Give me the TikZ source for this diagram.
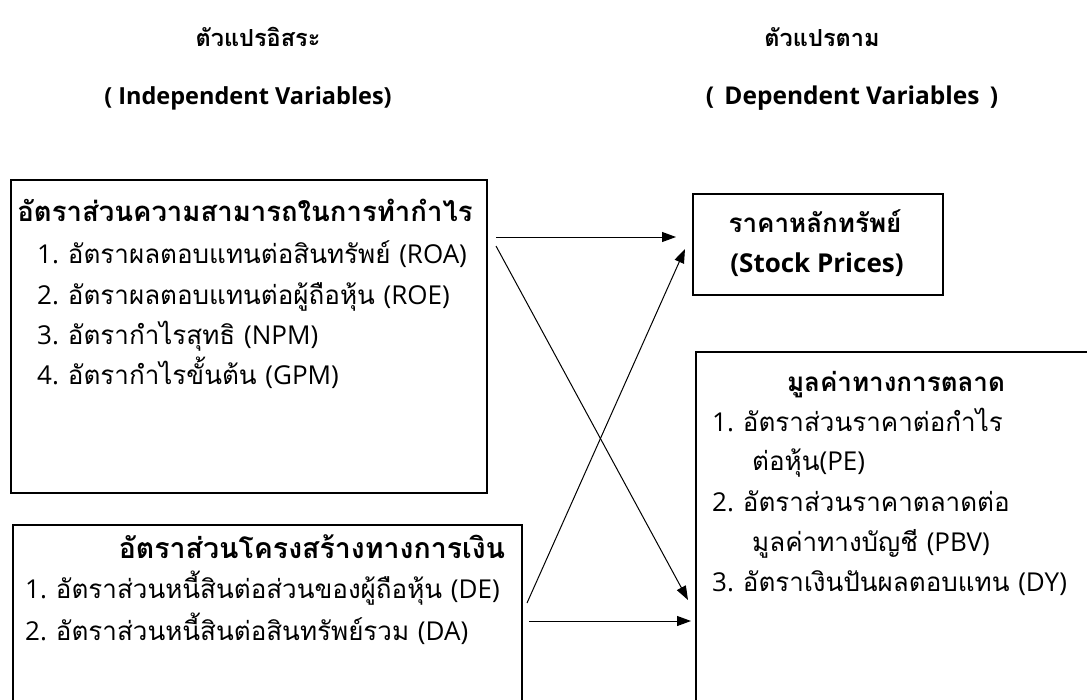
\documentclass[tikz,border=0pt]{standalone}
\usepackage{fontspec}
\setmainfont{Loma}[Script=Thai]
\newfontfamily\latn{Open Sans}
\usetikzlibrary{arrows.meta}
\tikzset{
  box/.style={draw=black, line width=1.5pt, fill=none, inner sep=0pt, anchor=north west},
  txt/.style={inner sep=0pt, anchor=base west, font=\fontsize{26}{30}\selectfont},
  btxt/.style={inner sep=0pt, anchor=base, font=\fontsize{26}{30}\selectfont\bfseries},
  bigb/.style={btxt, font=\fontsize{27.5}{30}\selectfont\bfseries},
  htxt/.style={inner sep=0pt, anchor=base, font=\fontsize{23.5}{30}\selectfont\bfseries},
  conn/.style={line width=1pt, -{Triangle[length=14pt,width=10pt]}}
}
\begin{document}
\begin{tikzpicture}[x=1pt,y=-1pt]
\useasboundingbox[fill=white] (0,0) rectangle (1087,699);
% headers
\node[htxt] (h1) at (258,46) {ตัวแปรอิสระ};
\node[htxt] (h2) at (248,104) {\latn ( Independent Variables)};
\node[htxt] (h3) at (822,46) {ตัวแปรตาม};
\node[htxt, font=\fontsize{24.5}{30}\selectfont\bfseries] (h4) at (852,104) {\latn (\hspace{4pt} Dependent Variables\hspace{4pt} )};
% boxes
\node[box, minimum width=476pt, minimum height=313pt] (prof) at (10,179) {};
\node[box, minimum width=509pt, minimum height=220pt] (fin) at (12,524) {};
\node[box, minimum width=250pt, minimum height=101pt] (stock) at (692,193) {};
\node[box, minimum width=420pt, minimum height=400pt] (mkt) at (695,351) {};
% box 1 text
\node[bigb] (p0) at (245,221) {อัตราส่วนความสามารถในการทำกำไร};
\node[txt] (p1) at (37,263) {{\latn 1. }อัตราผลตอบแทนต่อสินทรัพย์ {\latn (ROA)}};
\node[txt] (p2) at (37,304) {{\latn 2. }อัตราผลตอบแทนต่อผู้ถือหุ้น {\latn (ROE)}};
\node[txt] (p3) at (37,344) {{\latn 3. }อัตรากำไรสุทธิ {\latn (NPM)}};
\node[txt] (p4) at (37,384) {{\latn 4. }อัตรากำไรขั้นต้น {\latn (GPM)}};
% box 2 text
\node[bigb, font=\fontsize{28.5}{30}\selectfont\bfseries] (f0) at (312,558) {อัตราส่วนโครงสร้างทางการเงิน};
\node[txt] (f1) at (25,598) {{\latn 1. }อัตราส่วนหนี้สินต่อส่วนของผู้ถือหุ้น {\latn (DE)}};
\node[txt] (f2) at (25,640) {{\latn 2. }อัตราส่วนหนี้สินต่อสินทรัพย์รวม {\latn (DA)}};
% stock box text
\node[btxt] (s0) at (815,232) {ราคาหลักทรัพย์};
\node[btxt] (s1) at (817,272) {\latn (Stock Prices)};
% market box text
\node[btxt] (m0) at (896,391) {มูลค่าทางการตลาด};
\node[txt] (m1) at (712,431) {{\latn 1. }อัตราส่วนราคาต่อกำไร};
\node[txt] (m2) at (752,470) {ต่อหุ้น{\latn (PE)}};
\node[txt] (m3) at (712,511) {{\latn 2. }อัตราส่วนราคาตลาดต่อ};
\node[txt] (m4) at (752,551) {มูลค่าทางบัญชี {\latn (PBV)}};
\node[txt] (m5) at (712,591) {{\latn 3. }อัตราเงินปันผลตอบแทน {\latn (DY)}};
% connector end points
\coordinate (a1s) at (496,237);
\coordinate (a1e) at (676,237);
\coordinate (a2s) at (496,246);
\coordinate (a2e) at (688,600);
\coordinate (a3s) at (527,603);
\coordinate (a3e) at (685,249);
\coordinate (a4s) at (529,621);
\coordinate (a4e) at (691,621);
\draw[conn] (a1s) -- (a1e);
\draw[conn] (a2s) -- (a2e);
\draw[conn] (a3s) -- (a3e);
\draw[conn] (a4s) -- (a4e);
\end{tikzpicture}
\end{document}
